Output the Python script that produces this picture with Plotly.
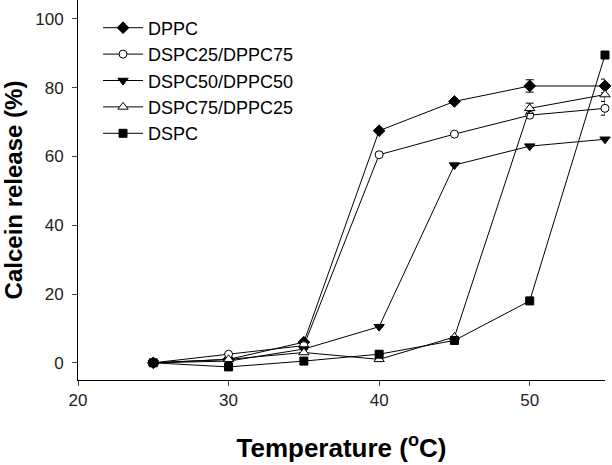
import plotly.graph_objects as go

temps = [25, 30, 35, 40, 45, 50, 55]
dppc = [0, 1, 6, 67.5, 76, 80.5, 80.5]
dspc25 = [0, 2.5, 5, 60.5, 66.5, 72, 74]
dspc50 = [0, 0.5, 4, 10.5, 57.5, 63, 65]
dspc75 = [0, 1, 3, 1, 7.5, 74, 78]
dspc = [0, -1.2, 0.5, 2.5, 6.5, 18, 89.5]

err_dppc = [0, 0, 0, 0, 0, 1.8, 2]
err_dspc25 = [0, 0, 0, 0, 0, 0, 2]
err_dspc50 = [0, 0, 0, 0, 0, 0, 0]
err_dspc75 = [0, 0, 0, 0, 0, 1.5, 2]
err_dspc = [0, 0, 0, 0, 0, 0, 0]

names = ["DPPC", "DSPC25/DPPC75", "DSPC50/DPPC50", "DSPC75/DPPC25", "DSPC"]
series = [dppc, dspc25, dspc50, dspc75, dspc]
errs = [err_dppc, err_dspc25, err_dspc50, err_dspc75, err_dspc]
symbols = ["diamond", "circle", "triangle-down", "triangle-up", "square"]
fills = ["black", "white", "black", "white", "black"]
sizes = [9, 8, 9, 9, 8]

fig = go.Figure()
for n, s, e, sym, fc, sz in zip(names, series, errs, symbols, fills, sizes):
    fig.add_trace(go.Scatter(
        x=temps, y=s, name=n, mode="lines+markers",
        line=dict(color="black", width=1),
        marker=dict(symbol=sym, size=sz, color=fc, line=dict(color="black", width=1)),
        error_y=dict(type="data", array=e, visible=True, color="black", thickness=1, width=4),
        cliponaxis=False,
    ))

fig.update_layout(
    width=612, height=465,
    margin=dict(l=78, r=7, t=0, b=85),
    paper_bgcolor="white", plot_bgcolor="white",
    font=dict(family="Liberation Sans, Arial, sans-serif", color="black"),
    showlegend=True,
    legend=dict(x=0.038, y=0.975, xanchor="left", yanchor="top",
                font=dict(size=18, color="black"), bgcolor="rgba(0,0,0,0)",
                tracegroupgap=0, itemwidth=40),
)
fig.update_xaxes(
    range=[20, 55], tickvals=[20, 30, 40, 50], ticks="outside", ticklen=5,
    showline=True, linecolor="black", linewidth=1, showgrid=False, zeroline=False,
    tickfont=dict(size=17, color="#222"), automargin=False,
    title=dict(text="<b>Temperature (<sup>o</sup>C)</b>", font=dict(size=26), standoff=29),
)
fig.update_yaxes(
    range=[-5, 105.5], tickvals=[0, 20, 40, 60, 80, 100], ticks="outside", ticklen=5,
    ticklabelstandoff=5,
    showline=True, linecolor="black", linewidth=1, showgrid=False, zeroline=False,
    tickfont=dict(size=17, color="#222"), automargin=False,
    title=dict(text="<b>Calcein release (%)</b>", font=dict(size=24), standoff=13),
)

fig.write_html(
    "out.html",
    config={"displayModeBar": False},
    post_script="document.body.style.margin='0';document.body.style.overflow='hidden';",
)
